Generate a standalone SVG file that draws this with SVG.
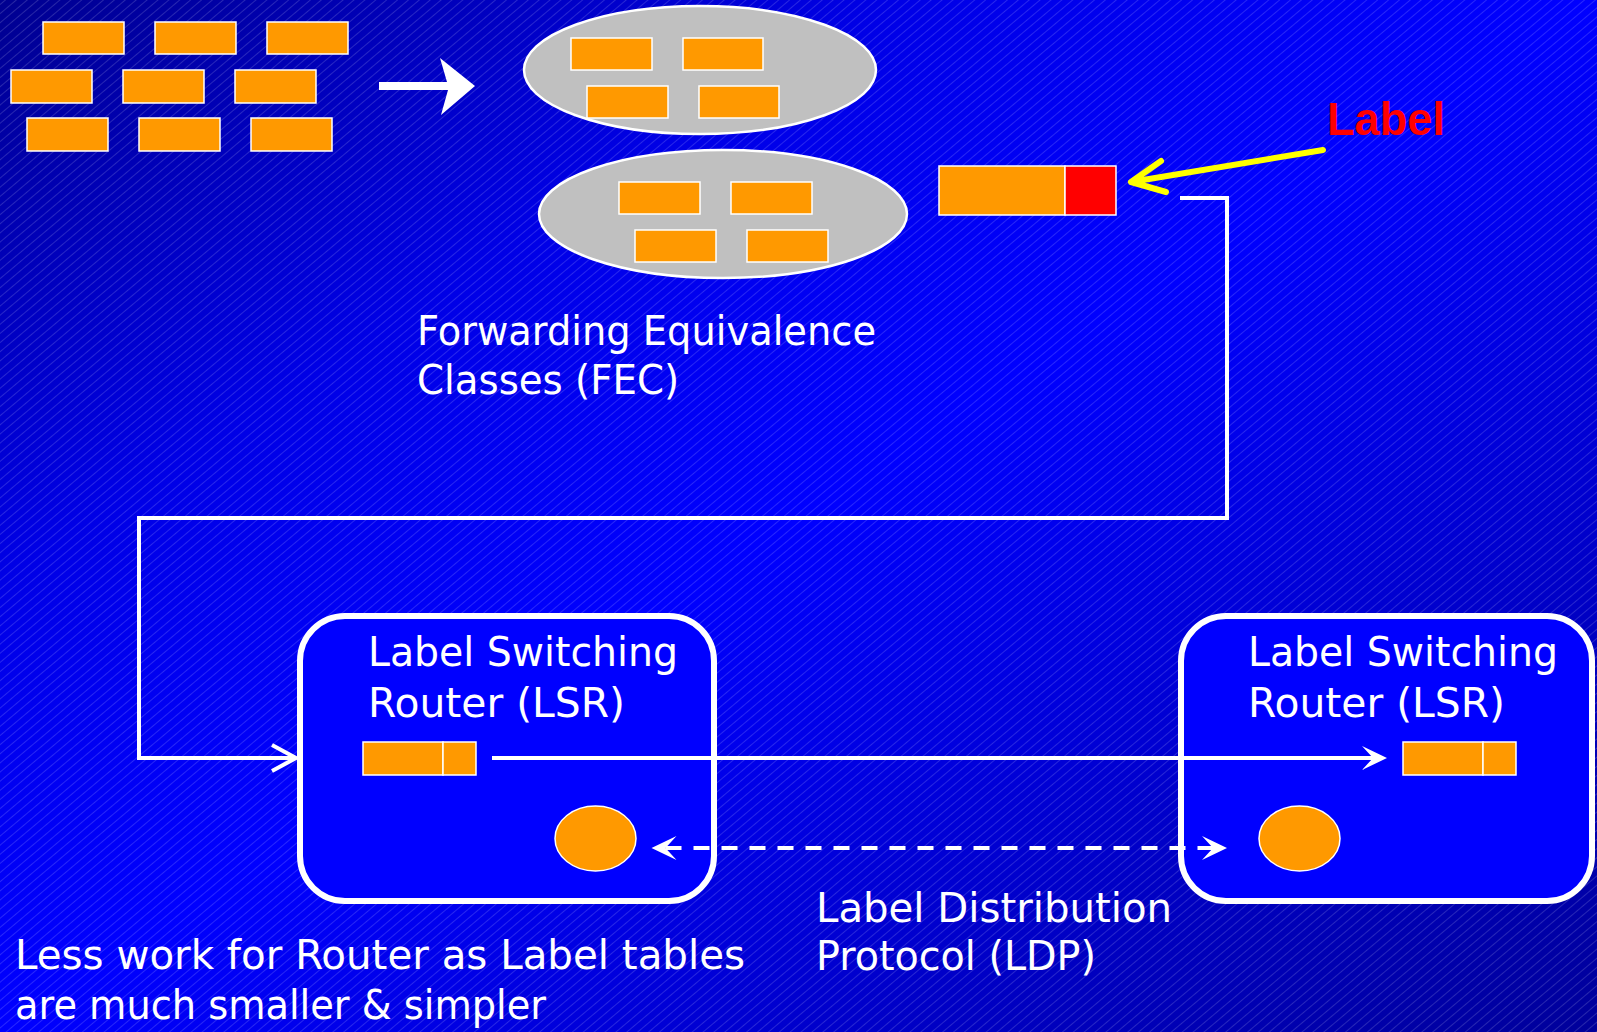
<svg xmlns="http://www.w3.org/2000/svg" width="1597" height="1032" viewBox="0 0 1597 1032">
  <style>
    .brick { fill: #FF9900; stroke: #FFFFFF; stroke-width: 1.5; }
    .fec { fill: #C0C0C0; stroke: #FFFFFF; stroke-width: 2.5; }
    .lsr { fill: #0000FF; stroke: #FFFFFF; stroke-width: 6; }
    .token { fill: #FF9900; stroke: #FFFFFF; stroke-width: 1.5; }
    .txt { font-family: "DejaVu Sans", "Liberation Sans", sans-serif; font-size: 40px; fill: #FFFFFF; }
    .wire { fill: none; stroke: #FFFFFF; stroke-width: 4; }
  </style>
  <defs>
    <linearGradient id="bg" x1="0" y1="0" x2="1" y2="1">
      <stop offset="0" stop-color="#000090"/>
      <stop offset="0.28" stop-color="#0000E6"/>
      <stop offset="0.5" stop-color="#0000FF"/>
      <stop offset="0.72" stop-color="#0000D2"/>
      <stop offset="1" stop-color="#00009A"/>
    </linearGradient>
    <pattern id="hatch" width="40" height="7" patternUnits="userSpaceOnUse" patternTransform="rotate(-40)">
      <line x1="0" y1="3.5" x2="40" y2="3.5" stroke="#FFFFFF" stroke-opacity="0.2" stroke-width="0.8"/>
    </pattern>
    <marker id="stealth" markerUnits="userSpaceOnUse" markerWidth="26" markerHeight="26" viewBox="0 0 26 26" refX="11" refY="13" orient="auto-start-reverse" overflow="visible">
      <path d="M0,1 L25,13 L0,25 L11,13 Z" fill="#FFFFFF"/>
    </marker>
    <marker id="openv" markerUnits="userSpaceOnUse" markerWidth="26" markerHeight="30" viewBox="0 0 26 30" refX="24" refY="15" orient="auto" overflow="visible">
      <path d="M0,2 L24,15 L0,28" fill="none" stroke="#FFFFFF" stroke-width="4"/>
    </marker>
  </defs>

  <rect x="0" y="0" width="1597" height="1032" fill="url(#bg)"/>
  <rect x="0" y="0" width="1597" height="1032" fill="url(#hatch)"/>

  <g id="packets">
    <rect class="brick" x="43" y="22" width="81" height="32"/>
    <rect class="brick" x="155" y="22" width="81" height="32"/>
    <rect class="brick" x="267" y="22" width="81" height="32"/>
    <rect class="brick" x="11" y="70" width="81" height="33"/>
    <rect class="brick" x="123" y="70" width="81" height="33"/>
    <rect class="brick" x="235" y="70" width="81" height="33"/>
    <rect class="brick" x="27" y="118" width="81" height="33"/>
    <rect class="brick" x="139" y="118" width="81" height="33"/>
    <rect class="brick" x="251" y="118" width="81" height="33"/>
  </g>

  <g id="fec-class-1">
    <ellipse class="fec" cx="700" cy="70" rx="176" ry="64"/>
    <rect class="brick" x="571" y="38" width="81" height="32"/>
    <rect class="brick" x="683" y="38" width="80" height="32"/>
    <rect class="brick" x="587" y="86" width="81" height="32"/>
    <rect class="brick" x="699" y="86" width="80" height="32"/>
  </g>

  <g id="fec-class-2">
    <ellipse class="fec" cx="723" cy="214" rx="184" ry="64"/>
    <rect class="brick" x="619" y="182" width="81" height="32"/>
    <rect class="brick" x="731" y="182" width="81" height="32"/>
    <rect class="brick" x="635" y="230" width="81" height="32"/>
    <rect class="brick" x="747" y="230" width="81" height="32"/>
  </g>

  <g id="fec-caption">
    <text class="txt" x="417" y="345" textLength="459" lengthAdjust="spacingAndGlyphs">Forwarding Equivalence</text>
    <text class="txt" x="417" y="394" textLength="262" lengthAdjust="spacingAndGlyphs">Classes (FEC)</text>
  </g>

  <g id="labeled-packet">
    <rect x="939" y="166" width="126" height="49" fill="#FF9900" stroke="#FFFFFF" stroke-width="1.5"/>
    <rect x="1065" y="166" width="51" height="49" fill="#FF0000" stroke="#FFFFFF" stroke-width="1.5"/>
  </g>

  <g id="label-callout">
    <text x="1327" y="135" font-family="Liberation Sans, Arial, sans-serif" font-weight="bold" font-size="46" fill="#FF0000" textLength="118" lengthAdjust="spacingAndGlyphs">Label</text>
  </g>

  <g id="lsr-1">
    <rect class="lsr" x="300" y="616" width="414" height="285" rx="45" ry="45"/>
    <text class="txt" x="368" y="666" textLength="310" lengthAdjust="spacingAndGlyphs">Label Switching</text>
    <text class="txt" x="368" y="717" textLength="257" lengthAdjust="spacingAndGlyphs">Router (LSR)</text>
    <rect class="token" x="363" y="742" width="80" height="33"/>
    <rect class="token" x="443" y="742" width="33" height="33"/>
    <ellipse class="token" cx="595.5" cy="838.5" rx="40.5" ry="32.5"/>
  </g>

  <g id="lsr-2">
    <rect class="lsr" x="1181" y="616" width="411" height="285" rx="45" ry="45"/>
    <text class="txt" x="1248" y="666" textLength="310" lengthAdjust="spacingAndGlyphs">Label Switching</text>
    <text class="txt" x="1248" y="717" textLength="257" lengthAdjust="spacingAndGlyphs">Router (LSR)</text>
    <rect class="token" x="1403" y="742" width="80" height="33"/>
    <rect class="token" x="1483" y="742" width="33" height="33"/>
    <ellipse class="token" cx="1299.5" cy="838.5" rx="40.5" ry="32.5"/>
  </g>

  <g id="ldp-caption">
    <text class="txt" x="816" y="922" textLength="356" lengthAdjust="spacingAndGlyphs">Label Distribution</text>
    <text class="txt" x="816" y="970" textLength="280" lengthAdjust="spacingAndGlyphs">Protocol (LDP)</text>
  </g>

  <g id="note">
    <text class="txt" x="15" y="969" textLength="730" lengthAdjust="spacingAndGlyphs">Less work for Router as Label tables</text>
    <text class="txt" x="15" y="1019" textLength="531" lengthAdjust="spacingAndGlyphs">are much smaller &amp; simpler</text>
  </g>

  <g id="connectors">
    <!-- classify arrow -->
    <polygon points="379,82 447,82 440,58 475,86 441,115 448,90 379,90" fill="#FFFFFF"/>
    <!-- label pointer -->
    <path d="M1323,150 L1131,182 M1161,161 L1131,182 L1166,192" fill="none" stroke="#FFFF00" stroke-width="6" stroke-linecap="round" stroke-linejoin="round"/>
    <!-- labeled packet to LSR 1 -->
    <path class="wire" d="M1180,198 H1227 V518 H139 V758 H296" marker-end="url(#openv)"/>
    <!-- LSR 1 to LSR 2 -->
    <path class="wire" d="M492,758 H1373" marker-end="url(#stealth)"/>
    <!-- LDP -->
    <path class="wire" d="M665.5,848 H1213" stroke-dasharray="16 12" marker-start="url(#stealth)" marker-end="url(#stealth)"/>
  </g>
</svg>
